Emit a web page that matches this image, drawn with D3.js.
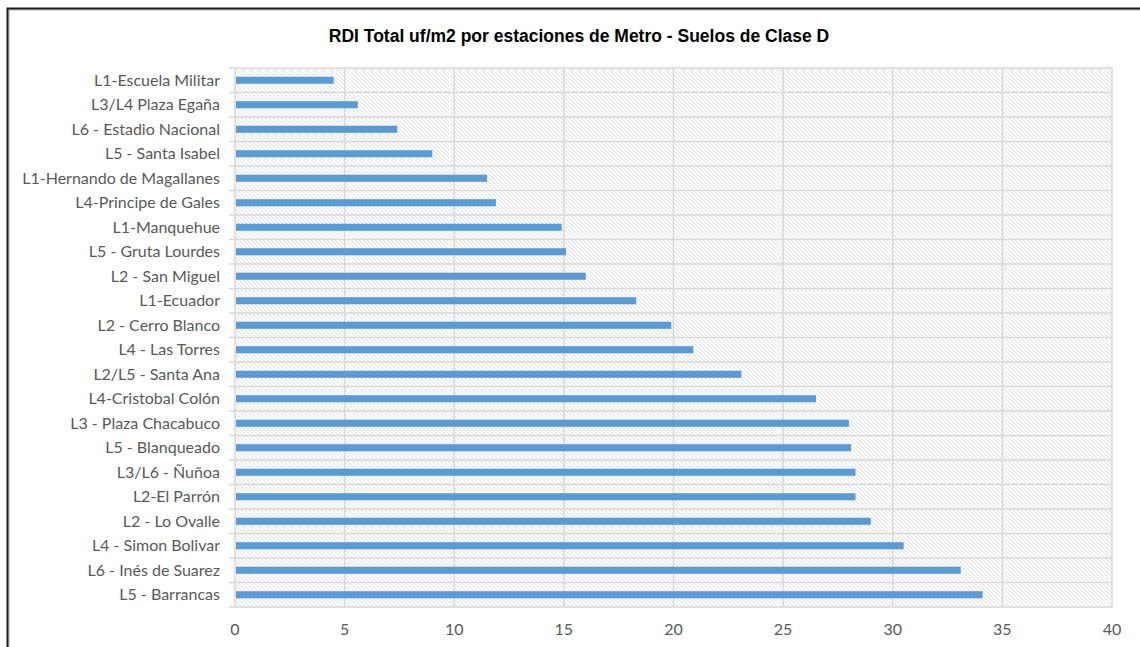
<!DOCTYPE html>
<html>
<head>
<meta charset="utf-8">
<script src="https://cdn.jsdelivr.net/npm/d3@7"></script>
<style>
  body { margin: 0; background: #fff; }
  .cat-label { font-family: Lato, "Open Sans", sans-serif; font-size: 16px; fill: #595959; }
  .tick-label { font-family: Lato, "Open Sans", sans-serif; font-size: 16px; fill: #595959; }
</style>
</head>
<body>
<div id="chart"></div>
<script>
const width = 1140, height = 647;

const stations = [
  "L1-Escuela Militar", "L3/L4 Plaza Egaña", "L6 - Estadio Nacional", "L5 - Santa Isabel",
  "L1-Hernando de Magallanes", "L4-Principe de Gales", "L1-Manquehue", "L5 - Gruta Lourdes",
  "L2 - San Miguel", "L1-Ecuador", "L2 - Cerro Blanco", "L4 - Las Torres",
  "L2/L5 - Santa Ana", "L4-Cristobal Colón", "L3 - Plaza Chacabuco", "L5 - Blanqueado",
  "L3/L6 - Ñuñoa", "L2-El Parrón", "L2 - Lo Ovalle", "L4 - Simon Bolivar",
  "L6 - Inés de Suarez", "L5 - Barrancas"
];
const rdiValues = [
  4.5, 5.6, 7.4, 9.0,
  11.5, 11.9, 14.9, 15.1,
  16.0, 18.3, 19.9, 20.9,
  23.1, 26.5, 28.0, 28.1,
  28.3, 28.3, 29.0, 30.5,
  33.1, 34.1
];
const xTicks = [0, 5, 10, 15, 20, 25, 30, 35, 40];

const margin = { left: 235, right: 28, top: 68, bottom: 40 };
const innerW = 1112 - margin.left;
const innerH = 607 - margin.top;

const svg = d3.select("#chart").append("svg")
  .attr("width", width).attr("height", height);

// hatch pattern for plot background
const defs = svg.append("defs");
const pat = defs.append("pattern")
  .attr("id", "hatch")
  .attr("patternUnits", "userSpaceOnUse")
  .attr("width", 4).attr("height", 4);
pat.append("rect").attr("width", 4).attr("height", 4).attr("fill", "#fff");
pat.append("path")
  .attr("d", "M-1,-1 L5,5 M-1,3 L1,5 M3,-1 L5,1")
  .attr("stroke", "#e0e0e0").attr("stroke-width", 1);

// outer frame (shadow + border)
svg.append("path")
  .attr("d", "M9,652 L9,10 L1145,10")
  .attr("fill", "none").attr("stroke", "#b0b0b0").attr("stroke-width", 1);
svg.append("path")
  .attr("d", "M7.5,652 L7.5,8.5 L1145,8.5")
  .attr("fill", "none").attr("stroke", "#1a1a1a").attr("stroke-width", 2);

// title
svg.append("text")
  .attr("x", 579).attr("y", 42)
  .attr("text-anchor", "middle")
  .attr("font-family", "Liberation Sans, Arial, sans-serif")
  .attr("font-weight", "bold").attr("font-size", "17.5px")
  .attr("fill", "#000")
  .text("RDI Total uf/m2 por estaciones de Metro - Suelos de Clase D");

const g = svg.append("g").attr("transform", `translate(${margin.left},${margin.top})`);

const xScale = d3.scaleLinear().domain([0, 40]).range([0, innerW]);
const yScale = d3.scaleBand().domain(stations).range([0, innerH]).paddingInner(0.71).paddingOuter(0.355);
const yBand = d3.scaleBand().domain(stations).range([0, innerH]);

g.append("rect")
  .attr("width", innerW).attr("height", innerH)
  .attr("fill", "url(#hatch)");

// horizontal category gridlines
g.selectAll(".hgrid")
  .data(stations.concat(["__end"]))
  .join("line")
    .attr("x1", -6).attr("x2", innerW)
    .attr("y1", (d, i) => i < stations.length ? yBand(d) : innerH)
    .attr("y2", (d, i) => i < stations.length ? yBand(d) : innerH)
    .attr("stroke", "#d9d9d9").attr("stroke-width", 1.5);

// vertical value gridlines
g.selectAll(".vgrid")
  .data(xTicks)
  .join("line")
    .attr("x1", d => xScale(d)).attr("x2", d => xScale(d))
    .attr("y1", 0).attr("y2", innerH)
    .attr("stroke", "#d9d9d9").attr("stroke-width", 1.5);

// bars
g.selectAll(".bar")
  .data(stations)
  .join("rect")
    .attr("x", 1)
    .attr("y", d => yScale(d))
    .attr("width", (d, i) => xScale(rdiValues[i]) - 1)
    .attr("height", yScale.bandwidth())
    .attr("fill", "#5b9bd5");

// category labels
g.selectAll(".cat-label")
  .data(stations)
  .join("text")
    .attr("class", "cat-label")
    .attr("x", -15)
    .attr("y", d => yBand(d) + yBand.bandwidth() / 2)
    .attr("dy", "0.35em")
    .attr("text-anchor", "end")
    .text(d => d);

// x tick labels
g.selectAll(".tick-label")
  .data(xTicks)
  .join("text")
    .attr("class", "tick-label")
    .attr("x", d => xScale(d))
    .attr("y", innerH + 22)
    .attr("dy", "0.35em")
    .attr("text-anchor", "middle")
    .text(d => d);
</script>
</body>
</html>
